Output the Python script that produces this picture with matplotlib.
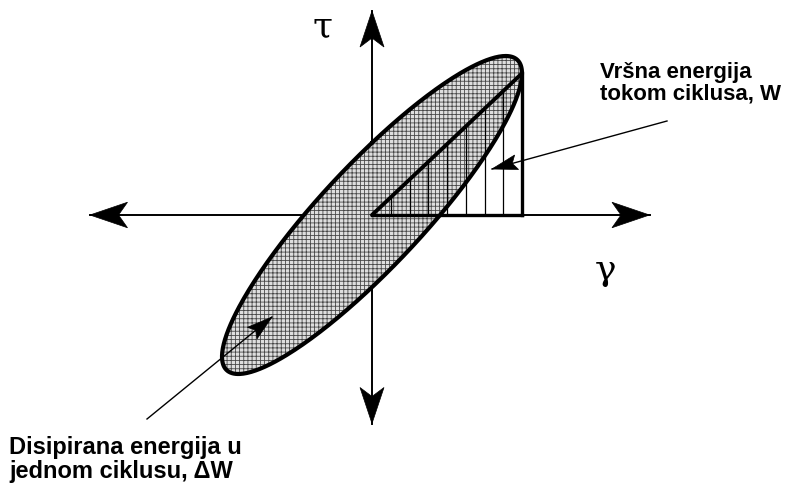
import numpy as np
import matplotlib
matplotlib.use('Agg')
import matplotlib.pyplot as plt
from matplotlib.patches import Polygon

# histerezisna petlja: gamma = g0*sin(t), tau = t0*sin(t + delta)
gamma_amp = 1.0
tau_amp = 1.06
phase_lag_deg = 27.0
n_hatch = 8  # vertikalne linije u trouglu W

# raspon osa (jedinice = gamma_amp)
x_axis = [-1.88, 1.85]
y_axis = [-1.39, 1.36]

plt.rcParams['hatch.linewidth'] = 0.6

fig = plt.figure(figsize=(7.95, 4.89), dpi=100)
ax = fig.add_axes([0, 0, 1, 1])
ax.set_xlim(-372 / 150, 423 / 150)
ax.set_ylim(-(489 - 216) / 150, 216 / 150)
ax.axis('off')


def arrow_head(ax, tip, tail, length, half_w, notch, **kw):
    tip = np.asarray(tip, float)
    d = tip - np.asarray(tail, float)
    d /= np.hypot(*d)
    p = np.array([-d[1], d[0]])
    pts = [tip,
           tip - length * d + half_w * p,
           tip - (length - notch) * d,
           tip - length * d - half_w * p]
    ax.add_patch(Polygon(pts, closed=True, facecolor='black',
                         edgecolor='black', lw=0.5, **kw))


# ose sa strelicama
ax.plot(x_axis, [0, 0], color='black', lw=1.4, zorder=2)
ax.plot([0, 0], y_axis, color='black', lw=1.4, zorder=2)
arrow_head(ax, (x_axis[0], 0), (0, 0), 0.25, 0.085, 0.06, zorder=6)
arrow_head(ax, (x_axis[1], 0), (0, 0), 0.25, 0.085, 0.06, zorder=6)
arrow_head(ax, (0, y_axis[1]), (0, 0), 0.24, 0.08, 0.06, zorder=6)
arrow_head(ax, (0, y_axis[0]), (0, 0), 0.24, 0.08, 0.06, zorder=6)

# petlja
delta = np.deg2rad(phase_lag_deg)
t = np.linspace(0, 2 * np.pi, 400)
g = gamma_amp * np.sin(t)
tau = tau_amp * np.sin(t + delta)
ax.fill(g, tau, facecolor='#dedede', edgecolor='#474747', lw=0,
        hatch='++++', zorder=3)
ax.plot(g, tau, color='black', lw=3.0, zorder=5, solid_capstyle='round')

# trougao maksimalne energije W
g_pk = gamma_amp
tau_pk = tau_amp * np.cos(delta)
for xh in np.linspace(0, g_pk, n_hatch + 1)[1:-1]:
    ax.plot([xh, xh], [0, tau_pk * xh / g_pk], color='black', lw=0.9, zorder=4)
ax.plot([0, g_pk], [0, tau_pk], color='black', lw=2.8, zorder=5,
        solid_capstyle='round')
ax.plot([g_pk, g_pk], [0, tau_pk], color='black', lw=2.4, zorder=5)
ax.plot([0, g_pk], [0, 0], color='black', lw=2.4, zorder=5)


def px(x, y):
    return (x - 372) / 150, (216 - y) / 150


# oznake osa
ax.text(*px(322, 26), 'τ', fontsize=26, ha='center', va='center',
        family='DejaVu Serif')
ax.text(*px(606, 270), 'γ', fontsize=26, ha='center', va='center',
        family='DejaVu Serif')

# pokazivači
up_tip, up_tail = px(492, 170), px(667, 122)
ax.plot([up_tip[0], up_tail[0]], [up_tip[1], up_tail[1]], color='black',
        lw=1.0, zorder=6)
arrow_head(ax, up_tip, up_tail, 0.17, 0.05, 0.03, zorder=7)

lo_tip, lo_tail = px(272, 318), px(147, 420)
ax.plot([lo_tip[0], lo_tail[0]], [lo_tip[1], lo_tail[1]], color='black',
        lw=1.0, zorder=6)
arrow_head(ax, lo_tip, lo_tail, 0.17, 0.05, 0.03, zorder=7)

# natpisi
ax.text(*px(600, 62), 'Vršna energija\ntokom ciklusa, W', fontsize=16,
        fontweight='bold', family='Liberation Sans', ha='left', va='top',
        linespacing=1.05)
ax.text(*px(9, 436), 'Disipirana energija u\njednom ciklusu, ΔW',
        fontsize=17, fontweight='bold', family='Liberation Sans',
        ha='left', va='top', linespacing=1.05)

fig.savefig('out.png', dpi=100)
